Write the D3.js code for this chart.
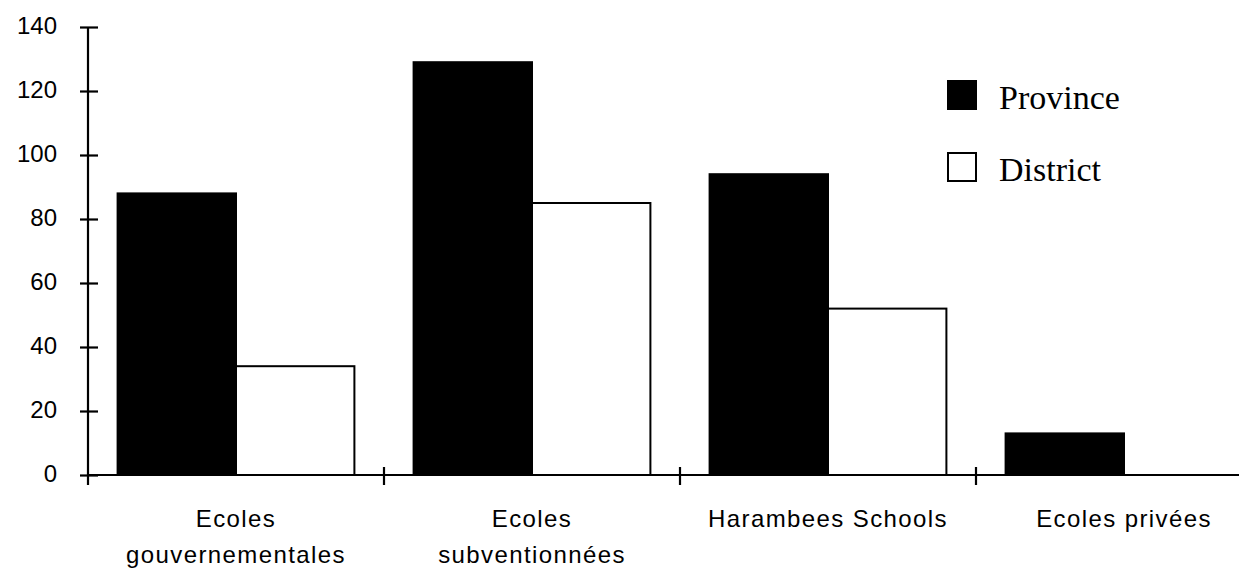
<!DOCTYPE html>
<html>
<head>
<meta charset="utf-8">
<script src="https://cdn.jsdelivr.net/npm/d3@7"></script>
<style>
  html, body { margin: 0; padding: 0; background: #fff; }
  svg { display: block; }
</style>
</head>
<body>
<svg id="chart" width="1239" height="570"></svg>
<script>
const categories = [["Ecoles", "gouvernementales"], ["Ecoles", "subventionnées"], ["Harambees Schools"], ["Ecoles privées"]];
const seriesNames = ["Province", "District"];
const provinceValues = [88, 129, 94, 13];
const districtValues = [34, 85, 52, 0];
const yTicks = [0, 20, 40, 60, 80, 100, 120, 140];

const svg = d3.select("#chart");
const W = 1239, H = 570;
const catKeys = categories.map(c => c.join(" "));

const x0 = d3.scaleBand().domain(catKeys).range([88, 88 + 4 * 296]).padding(0);
const x1 = d3.scaleBand().domain(seriesNames).range([0, x0.bandwidth()]).paddingInner(0).paddingOuter(0.25);
const y = d3.scaleLinear().domain([0, 140]).range([475, 27]);
const fills = { Province: "#000", District: "#fff" };

const data = [];
catKeys.forEach((k, i) => {
  data.push({ cat: k, s: "Province", v: provinceValues[i] });
  data.push({ cat: k, s: "District", v: districtValues[i] });
});

svg.append("g").selectAll("rect")
  .data(data.filter(d => d.v > 0))
  .join("rect")
  .attr("x", d => x0(d.cat) + x1(d.s))
  .attr("y", d => y(d.v))
  .attr("width", x1.bandwidth())
  .attr("height", d => y(0) - y(d.v))
  .attr("fill", d => fills[d.s])
  .attr("stroke", "#000")
  .attr("stroke-width", 2);

// Y axis
const yAxis = svg.append("g").attr("transform", "translate(88,0)")
  .call(d3.axisLeft(y).tickValues(yTicks).tickSize(0).tickPadding(31).tickFormat(d3.format("d")));
yAxis.select(".domain").remove();
yAxis.append("line").attr("x1", 0).attr("x2", 0).attr("y1", y(140)).attr("y2", y(0) + 10)
  .attr("stroke", "#000").attr("stroke-width", 2.2);
yAxis.selectAll(".tick line").remove();
yAxis.selectAll(".tick").append("line").attr("x1", -8).attr("x2", 10)
  .attr("stroke", "#000").attr("stroke-width", 2.2);
yAxis.selectAll(".tick text")
  .attr("font-family", "Liberation Sans, Arial, sans-serif")
  .attr("font-size", 24).attr("fill", "#000").attr("dy", "0.28em");

// X axis
const xAxis = svg.append("g").attr("transform", `translate(0,${y(0)})`);
xAxis.append("line").attr("x1", 88).attr("x2", W).attr("y1", 0).attr("y2", 0)
  .attr("stroke", "#000").attr("stroke-width", 2.2);
xAxis.selectAll("line.xt")
  .data(catKeys.slice(1))
  .join("line").attr("class", "xt")
  .attr("x1", d => x0(d)).attr("x2", d => x0(d))
  .attr("y1", -8).attr("y2", 10)
  .attr("stroke", "#000").attr("stroke-width", 2.2);

const labels = xAxis.selectAll("text.xl")
  .data(categories)
  .join("text").attr("class", "xl")
  .attr("text-anchor", "middle")
  .attr("font-family", "Liberation Sans, Arial, sans-serif")
  .attr("font-size", 24)
  .attr("letter-spacing", "1.4px")
  .attr("fill", "#000");
labels.each(function(lines, i) {
  const cx = x0(catKeys[i]) + x0.bandwidth() / 2;
  d3.select(this).selectAll("tspan").data(lines).join("tspan")
    .attr("x", cx)
    .attr("y", (d, j) => 52 + j * 36)
    .text(d => d);
});

// Legend
const legend = svg.append("g");
const legY = d3.scalePoint().domain(seriesNames).range([81, 153]);
legend.selectAll("rect").data(seriesNames).join("rect")
  .attr("x", 948).attr("y", d => legY(d))
  .attr("width", 28).attr("height", 28)
  .attr("fill", d => fills[d]).attr("stroke", "#000").attr("stroke-width", 2);
legend.selectAll("text").data(seriesNames).join("text")
  .attr("x", 999).attr("y", d => legY(d) + 28)
  .attr("font-family", "Liberation Serif, Times New Roman, serif")
  .attr("font-size", 34).attr("fill", "#000")
  .text(d => d);
</script>
</body>
</html>
